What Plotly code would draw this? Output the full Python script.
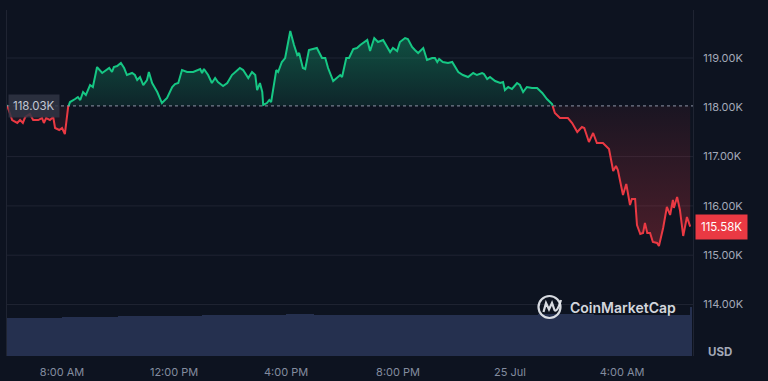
import numpy as np
import pandas as pd
import plotly.graph_objects as go

# ---------------- data ----------------
base_time = pd.Timestamp("2025-07-24 08:00")
open_price = 118030
last_price = 115580

# minutes relative to 24 Jul 08:00
minutes = [-118, -107, -96, -90, -84, -79, -69, -62, -51, -43, -39, -34, -26, -19, -15, -6, 0, 6,
           13, 17, 28, 34, 39, 45, 51, 60, 66, 75, 86, 94, 101, 107, 111, 118, 126, 133, 139, 150,
           156, 161, 167, 174, 182, 186, 193, 204, 214, 225, 236, 242, 249, 257, 268, 281, 296, 300,
           304, 313, 321, 328, 334, 345, 354, 364, 371, 381, 388, 399, 407, 414, 418, 424, 429, 431,
           439, 444, 448, 459, 463, 471, 478, 489, 497, 504, 508, 516, 521, 529, 546, 557, 564, 570,
           581, 589, 596, 600, 609, 615, 624, 632, 639, 654, 660, 669, 677, 688, 703, 709, 718, 724,
           735, 741, 750, 756, 763, 774, 782, 793, 799, 804, 808, 816, 827, 836, 842, 849, 859, 870,
           881, 889, 900, 904, 911, 917, 928, 939, 945, 949, 956, 964, 975, 981, 988, 996, 1007, 1018,
           1029, 1039, 1050, 1056, 1067, 1084, 1093, 1104, 1114, 1119, 1129, 1138, 1146, 1159, 1172,
           1181, 1187, 1191, 1202, 1209, 1217, 1221, 1228, 1232, 1239, 1245, 1249, 1254, 1260, 1266,
           1275, 1279, 1288, 1296, 1303, 1309, 1311, 1318, 1324, 1331, 1339, 1346]

prices = [118047, 117742, 117682, 117742, 117682, 117803, 117864, 117742, 117742, 117783, 117682,
          117783, 117742, 117803, 117580, 117540, 117580, 117458, 118006, 118107, 118168, 118209,
          118148, 118310, 118249, 118452, 118412, 118817, 118696, 118756, 118797, 118716, 118817,
          118838, 118898, 118797, 118655, 118696, 118655, 118554, 118614, 118452, 118554, 118716,
          118493, 118310, 118087, 118189, 118412, 118472, 118493, 118756, 118716, 118716, 118777,
          118696, 118777, 118655, 118493, 118594, 118513, 118432, 118493, 118655, 118716, 118797,
          118756, 118594, 118716, 118655, 118351, 118493, 118310, 118047, 118087, 118148, 118107,
          118756, 118716, 118919, 119000, 119547, 119263, 119061, 119101, 118797, 118777, 119162,
          119203, 119000, 119000, 118797, 118533, 118594, 118655, 118614, 119000, 119000, 119182,
          119203, 119263, 119365, 119142, 119405, 119324, 119365, 119121, 119203, 119142, 119324,
          119405, 119385, 119223, 119162, 119101, 119203, 118959, 119000, 119000, 118919, 118979,
          118919, 118898, 118919, 118817, 118716, 118655, 118614, 118696, 118655, 118696, 118675,
          118574, 118614, 118533, 118493, 118513, 118351, 118412, 118371, 118493, 118452, 118310,
          118412, 118391, 118391, 118290, 118168, 118067, 117884, 117782, 117782, 117682, 117499,
          117600, 117580, 117296, 117479, 117276, 117276, 117154, 116708, 116810, 116728, 116221,
          116444, 116019, 116140, 116140, 115613, 115430, 115451, 115654, 115451, 115451, 115268,
          115248, 115187, 115552, 115978, 115816, 116120, 115958, 116181, 115917, 115390, 115775,
          115580]

vol_times = ["2025-07-24 06:00", "2025-07-24 07:00", "2025-07-24 08:00", "2025-07-24 09:00",
             "2025-07-24 10:00", "2025-07-24 11:00", "2025-07-24 12:00", "2025-07-24 13:00",
             "2025-07-24 14:00", "2025-07-24 15:00", "2025-07-24 16:00", "2025-07-24 17:00",
             "2025-07-24 18:00", "2025-07-24 19:00", "2025-07-24 20:00", "2025-07-24 21:00",
             "2025-07-24 22:00", "2025-07-24 23:00", "2025-07-25 00:00", "2025-07-25 01:00",
             "2025-07-25 02:00", "2025-07-25 03:00", "2025-07-25 04:00", "2025-07-25 05:00",
             "2025-07-25 06:00", "2025-07-25 06:25"]
vol_values = [70.5, 71.0, 73.5, 74.0, 75.0, 75.5, 76.0, 76.5, 77.0, 77.0, 78.0, 77.5, 77.0,
              77.0, 77.5, 77.5, 77.0, 77.5, 77.5, 78.0, 78.0, 77.5, 77.0, 77.0, 77.0, 92.0]

tick_times = ["2025-07-24 08:00", "2025-07-24 12:00", "2025-07-24 16:00",
              "2025-07-24 20:00", "2025-07-25 00:00", "2025-07-25 04:00"]
tick_labels = ["8:00 AM", "12:00 PM", "4:00 PM", "8:00 PM", "25 Jul", "4:00 AM"]
price_ticks = [114000, 115000, 116000, 117000, 118000, 119000]

# ---------------- styling ----------------
BG = "#0d1320"
GREEN = "#16c784"
RED = "#ea3943"
GRID = "#1f2432"
FONT = "Inter"

# ---------------- derived series ----------------
tx = np.array(minutes, float)
py = np.array(prices, float)
xs, ys = [tx[0]], [py[0]]
for i in range(1, len(tx)):
    a, b = py[i - 1] - open_price, py[i] - open_price
    if a * b < 0:
        f = a / (a - b)
        xs.append(tx[i - 1] + f * (tx[i] - tx[i - 1]))
        ys.append(open_price)
    xs.append(tx[i])
    ys.append(py[i])
xs = np.array(xs)
ys = np.array(ys)
times = base_time + pd.to_timedelta(xs, unit="min")

green_line = np.where(ys >= open_price, ys, np.nan)
red_line = np.where(ys <= open_price, ys, np.nan)
green_fill = np.maximum(ys, open_price)
red_fill = np.minimum(ys, open_price)
baseline = np.full(len(ys), open_price, float)

vt = pd.to_datetime(vol_times)
vw = np.append(np.diff(vt.values).astype("timedelta64[ms]").astype(float), 5 * 60 * 1000)

fig = go.Figure()

fig.add_trace(go.Bar(x=vt, y=vol_values, width=vw, offset=0, yaxis="y2",
                     marker=dict(color="#25304f", line=dict(width=0)), hoverinfo="skip"))

fig.add_trace(go.Scatter(x=times, y=baseline, mode="lines", line=dict(width=0), hoverinfo="skip"))
fig.add_trace(go.Scatter(x=times, y=green_fill, mode="lines", line=dict(width=0), fill="tonexty",
                         fillgradient=dict(type="vertical", start=open_price, stop=float(py.max()),
                                           colorscale=[[0, "rgba(22,199,132,0.10)"],
                                                       [1, "rgba(22,199,132,0.36)"]]),
                         hoverinfo="skip"))
fig.add_trace(go.Scatter(x=times, y=baseline, mode="lines", line=dict(width=0), hoverinfo="skip"))
fig.add_trace(go.Scatter(x=times, y=red_fill, mode="lines", line=dict(width=0), fill="tonexty",
                         fillgradient=dict(type="vertical", start=float(py.min()), stop=open_price,
                                           colorscale=[[0, "rgba(234,57,67,0.28)"],
                                                       [1, "rgba(234,57,67,0.06)"]]),
                         hoverinfo="skip"))
fig.add_trace(go.Scatter(x=times, y=green_line, mode="lines", line=dict(color=GREEN, width=2),
                         connectgaps=False))
fig.add_trace(go.Scatter(x=times, y=red_line, mode="lines", line=dict(color=RED, width=2),
                         connectgaps=False))

shapes = []
for v in price_ticks:
    if abs(v - open_price) > 100:
        shapes.append(dict(type="line", xref="paper", yref="y", x0=0, x1=1, y0=v, y1=v,
                           line=dict(color=GRID, width=1), layer="below"))
shapes.append(dict(type="line", xref="paper", yref="y", x0=0, x1=1, y0=open_price, y1=open_price,
                   line=dict(color="rgba(150,158,175,0.75)", width=1.2, dash="dot")))

# CoinMarketCap logo (decoration), pixel -> paper helper
PL, PR, PT, PB = 7, 693, 10, 356
def px(x):
    return (x - PL) / (PR - PL)
def py_(y):
    return (PB - y) / (PB - PT)

logo_col = "rgba(232,235,241,0.92)"
shapes.append(dict(type="circle", xref="paper", yref="paper",
                   x0=px(538.5), x1=px(560.5), y0=py_(318), y1=py_(296),
                   line=dict(color=logo_col, width=2.2)))
shapes.append(dict(type="path", xref="paper", yref="paper",
                   path=(f"M {px(543.5)} {py_(312)} L {px(546)} {py_(303)} L {px(549)} {py_(309.5)} "
                         f"L {px(552)} {py_(303)} L {px(554.5)} {py_(310)} Q {px(557)} {py_(313)} {px(561)} {py_(300)}"),
                   line=dict(color=logo_col, width=2.2)))

annotations = [
    dict(xref="paper", yref="y", x=0, y=open_price, xanchor="left", yanchor="middle", xshift=1,
         text="118.03K", showarrow=False, bgcolor="rgba(48,53,68,0.85)", borderpad=4,
         font=dict(family=FONT, size=11.5, color="#c3c8d4")),
    dict(xref="paper", yref="y", x=1, y=last_price, xanchor="left", yanchor="middle", xshift=2,
         text="115.58K", showarrow=False, bgcolor=RED, borderpad=5,
         font=dict(family=FONT, size=11.5, color="#ffffff")),
    dict(xref="paper", yref="paper", x=1, y=py_(352), xanchor="left", yanchor="middle", xshift=13,
         text="<b>USD</b>", showarrow=False, font=dict(family=FONT, size=11.5, color="#a3a9b8")),
    dict(xref="paper", yref="paper", x=px(568), y=py_(307.5), xanchor="left", yanchor="middle",
         text="CoinMarketCap", showarrow=False,
         font=dict(family=FONT, size=14, color=logo_col, weight=600)),
]

fig.update_layout(
    width=768, height=381,
    margin=dict(l=PL, r=768 - PR, t=PT, b=381 - PB, autoexpand=False),
    paper_bgcolor=BG, plot_bgcolor=BG,
    showlegend=False,
    bargap=0,
    font=dict(family=FONT, color="#a3a9b8"),
    xaxis=dict(type="date", range=["2025-07-24 06:02", "2025-07-25 06:32"],
               tickvals=tick_times, ticktext=tick_labels, showgrid=False, zeroline=False,
               showline=False, ticks="", ticklabelstandoff=8, automargin=False,
               tickfont=dict(family=FONT, size=11, color="#838c9f")),
    yaxis=dict(side="right", range=[112955, 119974], tickvals=price_ticks,
               ticktext=[f"{v/1000:.2f}K" for v in price_ticks], showgrid=False, zeroline=False,
               showline=True, mirror=True, linecolor=GRID, linewidth=1, ticks="", automargin=False,
               ticklabelstandoff=7, tickfont=dict(family=FONT, size=11, color="#a3a9b8")),
    yaxis2=dict(overlaying="y", range=[0, 650], visible=False, showgrid=False, automargin=False),
    shapes=shapes,
    annotations=annotations,
)

fig.write_html("out.html")
